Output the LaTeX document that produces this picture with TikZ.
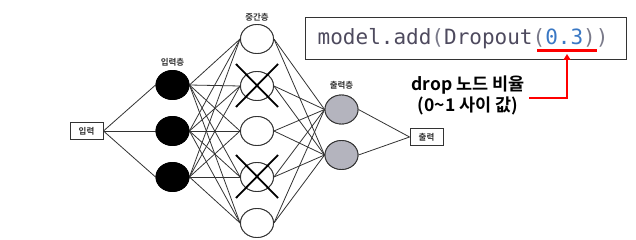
\documentclass[tikz,border=0pt]{standalone}
\usepackage{fontspec}
\setmainfont{Noto Sans CJK KR}
\newfontfamily\krfont{Noto Sans CJK KR}
\newfontfamily\krbold{Noto Sans CJK KR Bold}
\newfontfamily\codefont{DejaVu Sans Mono}
\usetikzlibrary{shapes.geometric,arrows.meta}
\definecolor{linec}{HTML}{333333}
\definecolor{codegray}{HTML}{4E4A5E}
\definecolor{parengray}{HTML}{7A7A8A}
\definecolor{codeblue}{HTML}{3A78C4}
\definecolor{outfill}{HTML}{B4B4BE}
\tikzset{
  neuron/.style={ellipse, draw=linec, line width=0.9pt, minimum width=33pt, minimum height=29pt, inner sep=0pt},
  inneuron/.style={neuron, fill=black, draw=black},
  hidneuron/.style={neuron, fill=white},
  outneuron/.style={neuron, fill=outfill},
  iobox/.style={draw=linec, line width=0.9pt, minimum width=33pt, minimum height=17pt, inner sep=0pt, font=\krbold\fontsize{8.5}{9}\selectfont, text=linec},
  layerlabel/.style={font=\krbold\fontsize{8.5}{9}\selectfont, text=linec},
  conn/.style={draw=linec, line width=0.8pt},
  crossline/.style={draw=black, line width=1.8pt},
  redline/.style={draw=red, line width=2.2pt},
}
\begin{document}
\begin{tikzpicture}[x=1pt,y=-1pt]
\useasboundingbox (0,0) rectangle (636,240);
% nodes
\node[iobox] (inbox) at (86.5,131) {입력};
\node[inneuron] (i1) at (172.5,85) {};
\node[inneuron] (i2) at (172.5,131) {};
\node[inneuron] (i3) at (172.5,177) {};
\node[layerlabel] (inlab) at (172.5,62) {입력층};
\node[hidneuron] (h1) at (257,39) {};
\node[hidneuron] (h2) at (257,86) {};
\node[hidneuron] (h3) at (257,131) {};
\node[hidneuron] (h4) at (257,177) {};
\node[hidneuron] (h5) at (257,223) {};
\node[layerlabel] (hidlab) at (257,17) {중간층};
\node[outneuron] (o1) at (341.5,109.5) {};
\node[outneuron] (o2) at (341.5,155) {};
\node[layerlabel] (outlab) at (341.5,85) {출력층};
\node[iobox] (outbox) at (426.5,137) {출력};
% connectors
\foreach \i in {1,2,3} {\draw[conn] (inbox.east) -- (i\i.west);}
\foreach \i in {1,2,3} {\foreach \h in {1,...,5} {\draw[conn] (i\i.east) -- (h\h.west);}}
\foreach \h in {1,...,5} {\foreach \o in {1,2} {\draw[conn] (h\h.east) -- (o\o.west);}}
\foreach \o in {1,2} {\draw[conn] (o\o.east) -- (outbox.west);}
% redraw neurons on top
\node[inneuron] at (i1) {};
\node[inneuron] at (i2) {};
\node[inneuron] at (i3) {};
\foreach \h in {1,...,5} {\node[hidneuron] at (h\h) {};}
\node[outneuron] at (o1) {};
\node[outneuron] at (o2) {};
% crosses
\foreach \h in {2,4} {
  \draw[crossline] ([shift={(-21,-22)}]h\h.center) -- ([shift={(21,21)}]h\h.center);
  \draw[crossline] ([shift={(21,-22)}]h\h.center) -- ([shift={(-21,21)}]h\h.center);
}
% code box
\node[draw=linec, line width=0.9pt, minimum width=321pt, minimum height=42pt, inner sep=0pt] (code) at (465.5,38) {};
\node[anchor=west, inner sep=0pt, font=\codefont\fontsize{21}{22}\selectfont] (codetxt) at (317.5,38.5)
  {\textcolor{codegray}{model.add}\textcolor{parengray}{(}\textcolor{codegray}{Dropout}\textcolor{parengray}{(}\textcolor{codeblue}{0.3}\textcolor{parengray}{))}};
\coordinate (ul1) at (537,50.5);
\coordinate (ul2) at (597,50.5);
\draw[redline] (ul1) -- (ul2);
% annotation
\node[align=center, inner sep=0pt, font=\krbold\fontsize{17.5}{21}\selectfont] (note) at (468,95) {drop 노드 비율\\(0\textasciitilde 1 사이 값)};
\coordinate (ar0) at (529,98);
\coordinate (ar1) at (567,98);
\coordinate (ar2) at (567,54);
\draw[redline, -{Triangle[length=6pt,width=7pt]}] (ar0) -- (ar1) -- (ar2);
\end{tikzpicture}
\end{document}
